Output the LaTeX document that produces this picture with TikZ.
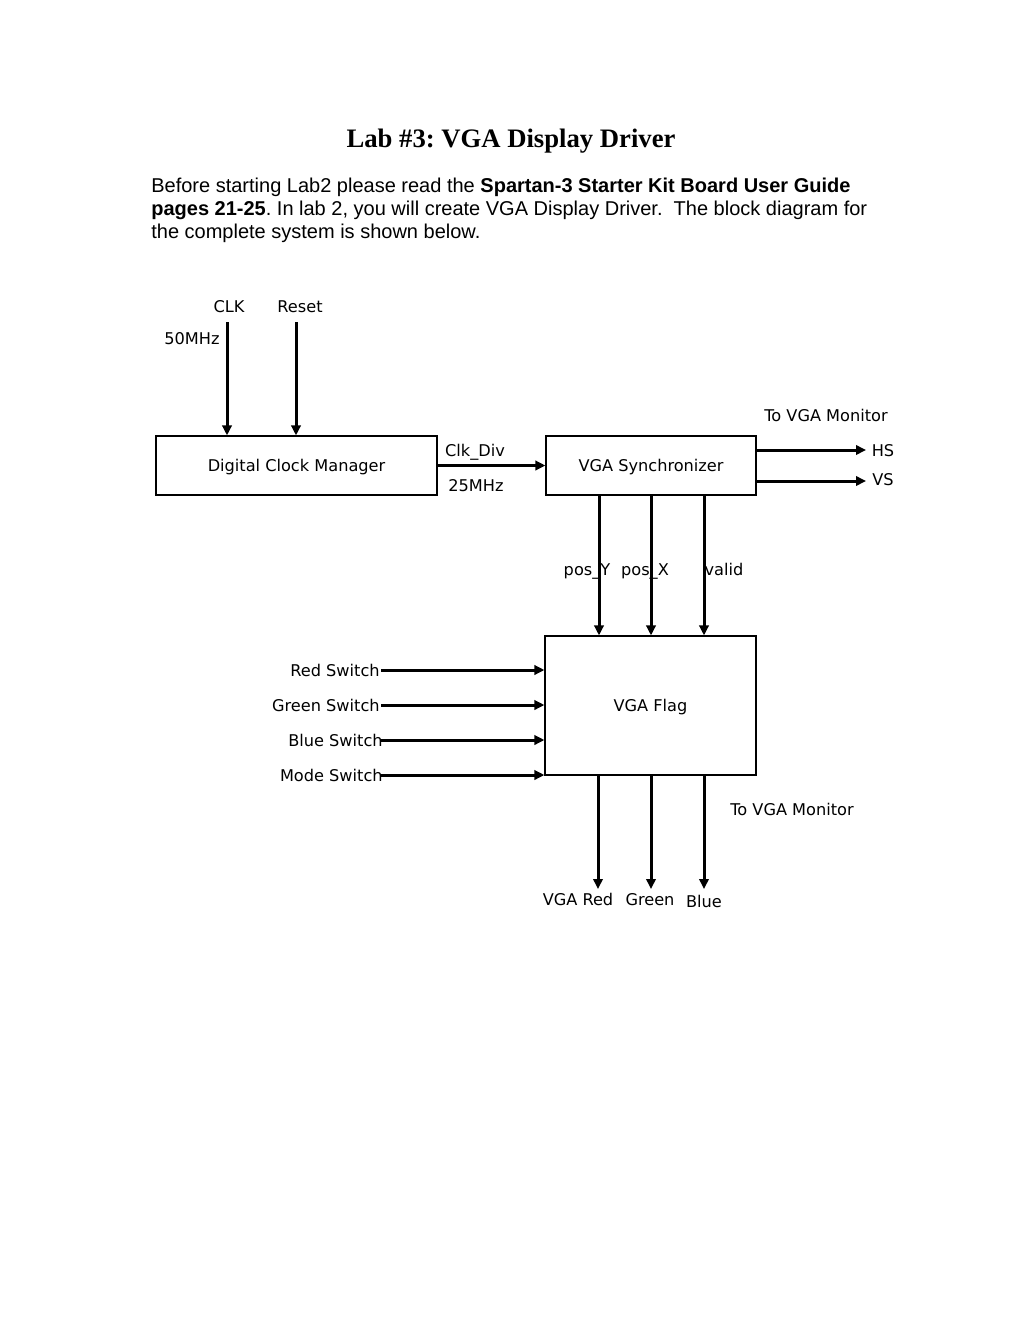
\documentclass[tikz,border=0pt]{standalone}
\usepackage{fontspec}
\setmainfont{Liberation Sans}
\newfontfamily\dvsfont{DejaVu Sans}
\newfontfamily\arialfont{Liberation Sans}
\newfontfamily\titlefont{Liberation Serif}
\usetikzlibrary{arrows.meta}
\frenchspacing
\begin{document}
\begin{tikzpicture}[x=0.6pt,y=-0.6pt,
  blk/.style={draw,line width=0.7pt,inner sep=0pt,font=\dvsfont\fontsize{9.7}{11}\selectfont,text height=7pt,text depth=0pt},
  lbl/.style={font=\dvsfont\fontsize{9.7}{11}\selectfont,inner sep=0pt,anchor=base},
  sig/.style={line width=1.8pt,-{Triangle[length=6pt,width=5.6pt]}},
  body/.style={font=\arialfont\fontsize{12}{14}\selectfont,inner sep=0pt,anchor=base west}]
\useasboundingbox (0,0) rectangle (1020,1320);

% title and text
\node[font=\titlefont\bfseries\fontsize{16}{19}\selectfont,inner sep=0pt,anchor=base] (title) at (511,147) {Lab \#3: VGA Display Driver};
\node[body] (t1) at (151,192) {Before starting Lab2 please read the \textbf{Spartan-3 Starter Kit Board User Guide}};
\node[body] (t2) at (151,215) {\textbf{pages 21-25}. In lab 2, you will create VGA Display Driver.\ \ The block diagram for};
\node[body] (t3) at (151,238) {the complete system is shown below.};

% boxes
\node[blk,minimum width=281*0.6pt,minimum height=59*0.6pt] (dcm) at (296.5,465.5) {Digital Clock Manager};
\node[blk,minimum width=210*0.6pt,minimum height=59*0.6pt] (sync) at (651,465.5) {VGA Synchronizer};
\node[blk,minimum width=211*0.6pt,minimum height=139*0.6pt] (flag) at (650.5,705.5) {VGA Flag};

% inputs to DCM
\coordinate (clkin) at (227,322);
\coordinate (rstin) at (296,322);
\node[lbl] (clk) at (229,312) {CLK};
\node[lbl] (rst) at (300,312) {Reset};
\node[lbl] (mhz50) at (192,344) {50MHz};
\draw[sig] (clkin) -- (clkin |- dcm.north);
\draw[sig] (rstin) -- (rstin |- dcm.north);

% clk div
\draw[sig] (dcm.east) -- (sync.west);
\node[lbl] (clkdiv) at (475,456) {Clk\_Div};
\node[lbl] (mhz25) at (476,491) {25MHz};

% HS VS
\coordinate (hsend) at (866,450);
\coordinate (vsend) at (866,481);
\draw[sig] (sync.east |- hsend) -- (hsend);
\draw[sig] (sync.east |- vsend) -- (vsend);
\node[lbl] (hs) at (883,456) {HS};
\node[lbl] (vs) at (883,485) {VS};
\node[lbl] (mon1) at (826,421) {To VGA Monitor};

% sync to flag
\coordinate (py) at (599,495);
\coordinate (px) at (651,495);
\coordinate (pv) at (704,495);
\draw[sig] (py) -- (py |- flag.north);
\draw[sig] (px) -- (px |- flag.north);
\draw[sig] (pv) -- (pv |- flag.north);
\node[lbl] (lpy) at (587,575) {pos\_Y};
\node[lbl] (lpx) at (645,575) {pos\_X};
\node[lbl] (lpv) at (724,575) {valid};

% switches
\node[lbl,anchor=base east] (rsw) at (380,676) {Red Switch};
\node[lbl,anchor=base east] (gsw) at (380,711) {Green Switch};
\node[lbl,anchor=base east] (bsw) at (383,746) {Blue Switch};
\node[lbl,anchor=base east] (msw) at (383,781) {Mode Switch};
\coordinate (rs) at (381,670);
\coordinate (gs) at (381,705);
\coordinate (bs) at (381,740);
\coordinate (ms) at (381,775);
\draw[sig] (rs) -- (flag.west |- rs);
\draw[sig] (gs) -- (flag.west |- gs);
\draw[sig] (bs) -- (flag.west |- bs);
\draw[sig] (ms) -- (flag.west |- ms);

% outputs
\coordinate (or) at (598,889);
\coordinate (og) at (651,889);
\coordinate (ob) at (704,889);
\draw[sig] (or |- flag.south) -- (or);
\draw[sig] (og |- flag.south) -- (og);
\draw[sig] (ob |- flag.south) -- (ob);
\node[lbl] (vr) at (578,905) {VGA Red};
\node[lbl] (vg) at (650,905) {Green};
\node[lbl] (vb) at (704,907) {Blue};
\node[lbl] (mon2) at (792,815) {To VGA Monitor};
\end{tikzpicture}
\end{document}
